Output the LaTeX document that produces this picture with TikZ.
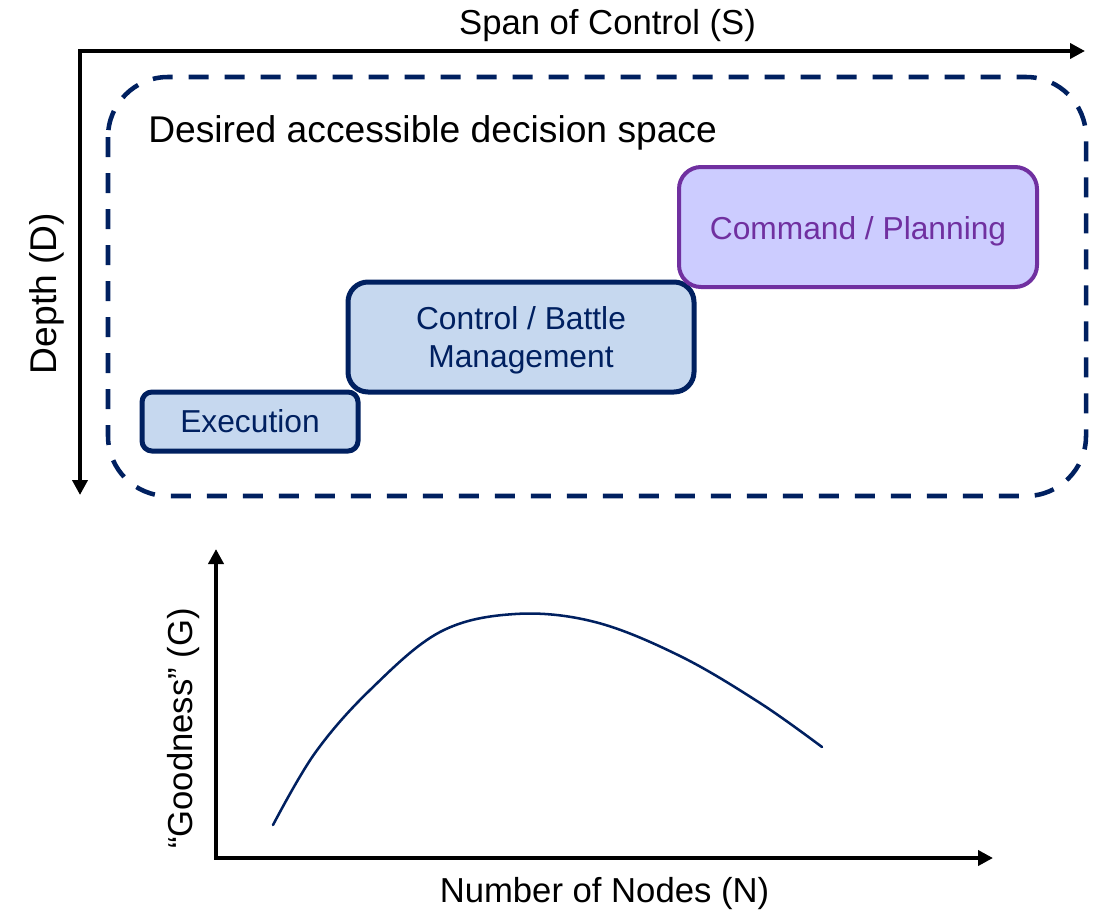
\documentclass[tikz,border=0pt]{standalone}
\usepackage{fontspec}
\setmainfont{Liberation Sans}
\usetikzlibrary{arrows.meta}

\definecolor{navy}{HTML}{002060}
\definecolor{paleblue}{HTML}{C6D8EF}
\definecolor{plum}{HTML}{7030A0}
\definecolor{lavender}{HTML}{CCCCFF}

% one drawing unit is 0.75pt throughout
\tikzset{
  axis/.style={line width=3pt, line join=miter,
    {Triangle[length=11.25pt,width=11.25pt]}-{Triangle[length=11.25pt,width=11.25pt]}},
  axislabel/.style={font=\fontsize{26pt}{30pt}\selectfont, inner sep=0pt, text=black},
  regionlabel/.style={font=\fontsize{27.9pt}{32pt}\selectfont, inner sep=0pt, text=black},
  region/.style={draw=navy, line width=3.4pt, dash pattern=on 15pt off 12pt,
    rounded corners=45pt},
  stagebox/.style={draw=navy, fill=paleblue, line width=3.75pt, rectangle, inner sep=0pt},
  stagetext/.style={font=\fontsize{23.8pt}{28.5pt}\selectfont, inner sep=0pt,
    text=navy, align=center},
  cmdbox/.style={draw=plum, fill=lavender, line width=3pt, rectangle, inner sep=0pt,
    rounded corners=16.5pt},
  curve/.style={draw=navy, line width=1.9pt, line cap=round},
}

\begin{document}
\begin{tikzpicture}[x=0.75pt, y=-0.75pt]
  \useasboundingbox (0,0) rectangle (1094,910);

  % --- decision-space axes ---
  \coordinate (dTip) at (80,495);
  \coordinate (dOrigin) at (80,51);
  \coordinate (sTip) at (1085,51);
  \draw[axis] (dTip) -- (dOrigin) -- (sTip);
  \node[axislabel, anchor=base] (spanlab) at (607.5,34) {Span of Control (S)};
  \node[regionlabel, rotate=90, anchor=base] (depthlab) at (56,293.5) {Depth (D)};

  % --- accessible region ---
  \draw[region] (108,77) rectangle (1086,496);
  \node[regionlabel, anchor=base west] (desired) at (148,142) {Desired accessible decision space};

  % --- stages ---
  \node[stagebox, rounded corners=7.5pt, minimum width=162pt, minimum height=44.25pt]
    (exec) at (250,421.5) {};
  \node[stagetext, anchor=base] (exectext) at (250,432) {Execution};

  \node[stagebox, rounded corners=15pt, minimum width=259.5pt, minimum height=82.5pt]
    (ctrl) at (521,337) {};
  \node[stagetext, anchor=base] (ctrltext1) at (521,329.5) {Control / Battle};
  \node[stagetext, anchor=base] (ctrltext2) at (521,367.5) {Management};

  \node[cmdbox, minimum width=268.5pt, minimum height=90pt] (cmd) at (858,227) {};
  \node[stagetext, text=plum, anchor=base] (cmdtext) at (858,239.5) {Command / Planning};

  % --- goodness vs. nodes ---
  \coordinate (gTip) at (216,549);
  \coordinate (gOrigin) at (216,858);
  \coordinate (nTip) at (993,858);
  \draw[axis] (gTip) -- (gOrigin) -- (nTip);
  \node[axislabel, rotate=90, anchor=base] (goodlab) at (192,728.5) {“Goodness” (G)};
  \node[axislabel, anchor=base] (nodelab) at (604.5,902) {Number of Nodes (N)};

  \draw[curve] plot[smooth, tension=0.6] coordinates {
    (273,825) (315,753) (370,690) (440,632) (515,614) (595,622)
    (680,656) (760,703) (822,747)};
\end{tikzpicture}
\end{document}
